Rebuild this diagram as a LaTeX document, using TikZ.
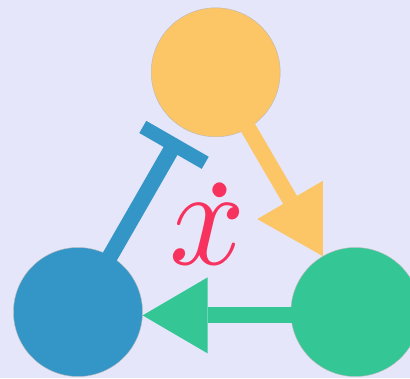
\documentclass[tikz,border=0pt]{standalone}
\usepackage{tikz}
\usetikzlibrary{arrows.meta}
\definecolor{lavender}{RGB}{230,230,250}
\definecolor{amber}{RGB}{252,197,102}
\definecolor{steel}{RGB}{52,150,199}
\definecolor{jade}{RGB}{52,199,149}
\definecolor{rose}{RGB}{247,50,95}

\begin{document}
\begin{tikzpicture}[x=1pt,y=1pt,
  blob/.style={circle,draw=gray!55,line width=0.4pt,minimum size=129pt,inner sep=0pt},
  link/.style={line width=16pt,shorten <=-6pt},
  activates/.style={link,-{Triangle[width=76pt,length=65pt,line width=0pt]}},
  represses/.style={link,-{Bar[width=72pt,line width=14pt]}}]

  \useasboundingbox (0,0) rectangle (410,378);
  \fill[lavender] (0,0) rectangle (410,378);

  % the three species
  \node[blob,fill=amber] (yel) at (215.7,305.7) {};
  \node[blob,fill=steel] (blu) at (78,66) {};
  \node[blob,fill=jade]  (grn) at (355.4,66) {};

  % interactions
  \draw[activates,amber] (yel) -- (grn);
  \draw[activates,jade] (grn.183.5) -- (blu.-3.5);
  \draw[represses,steel,shorten >=12pt] (blu) -- (yel);

  % dot sits lower than the usual accent
  \node[text=rose,xscale=13.3,yscale=14,anchor=base] (xdot) at (208,114)
    {$x$\llap{\raisebox{-0.9pt}{$\dot{\phantom{x}}$}\kern-0.92pt}};

\end{tikzpicture}
\end{document}
